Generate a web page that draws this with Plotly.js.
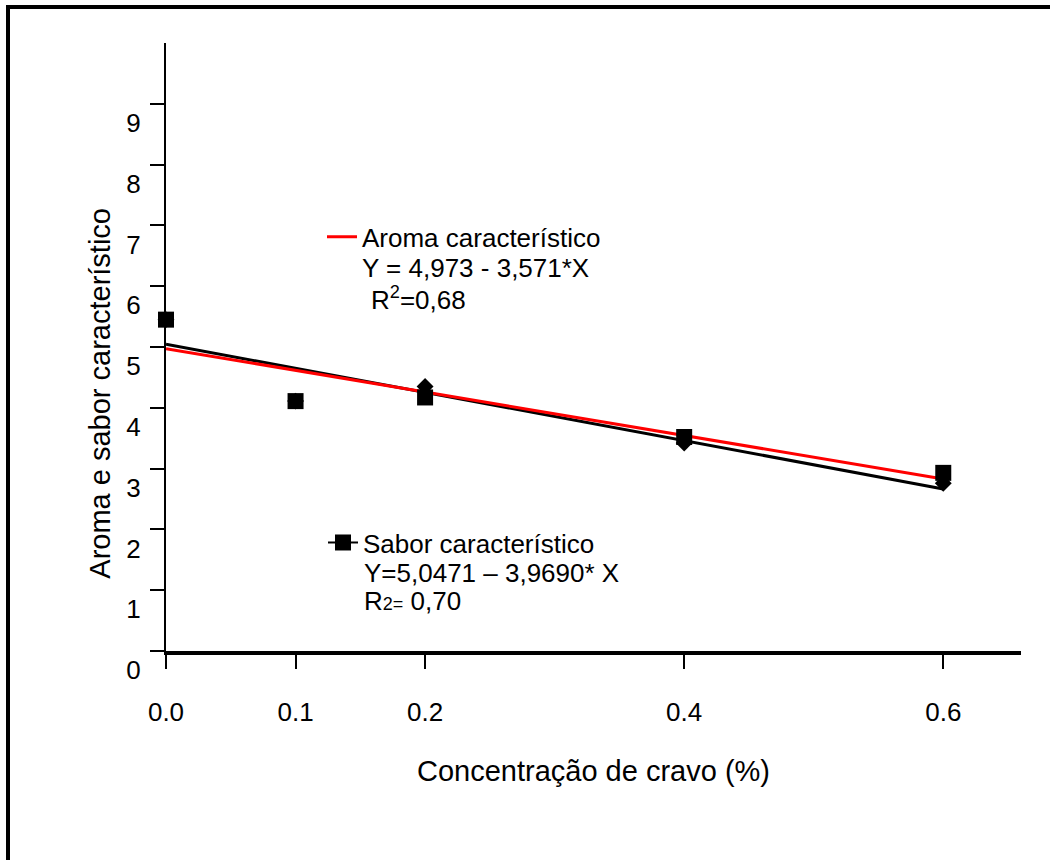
<!DOCTYPE html>
<html>
<head>
<meta charset="utf-8">
<script src="https://cdn.plot.ly/plotly-3.0.1.min.js"></script>
<style>
  html, body { margin: 0; padding: 0; background: #fff; }
  #wrap { position: relative; width: 1050px; height: 860px; }
  #chart { position: absolute; left: 0; top: 0; width: 1050px; height: 860px; }
  #frame { position: absolute; left: 6px; top: 5px; width: 1044px; height: 855px;
           border-left: 4px solid #000; border-top: 4px solid #000; box-sizing: border-box;
           pointer-events: none; z-index: 10; }
</style>
</head>
<body>
<div id="wrap">
  <div id="chart"></div>
  <div id="frame"></div>
</div>
<script>
// Concentration of clove (%)
const concentracao = [0, 0.1, 0.2, 0.4, 0.6];
// Sabor característico (squares)
const sabor = [5.45, 4.11, 4.17, 3.52, 2.93];
// Aroma característico (diamonds)
const aroma = [5.45, 4.11, 4.35, 3.42, 2.76];
// Fitted lines (end points)
const ajusteX = [0, 0.6];
const aromaAjuste = [4.973, 2.830];
const saborAjuste = [5.047, 2.666];
// Tick values / labels
const xTicks = [0, 0.1, 0.2, 0.4, 0.6];
const xTickText = ['0.0', '0.1', '0.2', '0.4', '0.6'];
const yTicks = [0, 1, 2, 3, 4, 5, 6, 7, 8, 9];
const yTickText = ['0', '1', '2', '3', '4', '5', '6', '7', '8', '9'];

const FONT = 'Liberation Sans, Arial, sans-serif';

const traces = [
  { x: ajusteX, y: saborAjuste, mode: 'lines', line: { color: '#000', width: 3 }, showlegend: false, hoverinfo: 'skip' },
  { x: ajusteX, y: aromaAjuste, mode: 'lines', line: { color: '#ff0000', width: 3 },
    name: 'Aroma característico', showlegend: true, legend: 'legend' },
  { x: concentracao, y: aroma, mode: 'markers', cliponaxis: false,
    marker: { symbol: 'diamond', size: 13, color: '#000' }, showlegend: false },
  { x: concentracao, y: sabor, mode: 'markers', cliponaxis: false,
    marker: { symbol: 'square', size: 16, color: '#000' }, showlegend: false },
  { x: [null], y: [null], mode: 'lines+markers', line: { color: '#000', width: 2 },
    marker: { symbol: 'square', size: 16, color: '#000' },
    name: 'Sabor característico', showlegend: true, legend: 'legend2' }
];

const L = 166, R = 1050 - 1021, T = 43, B = 860 - 651.5;
const pw = 1050 - L - R, ph = 860 - T - B;
const px = v => (v - L) / pw;
const py = v => (860 - B - v) / ph;

const txt = { family: FONT, size: 26, color: '#000' };

const layout = {
  width: 1050, height: 860,
  margin: { l: L, r: R, t: T, b: B, pad: 0 },
  paper_bgcolor: '#fff', plot_bgcolor: '#fff',
  font: txt,
  xaxis: {
    range: [0, 0.66], tickvals: xTicks, ticktext: xTickText,
    showgrid: false, zeroline: false, showline: true, linecolor: '#000', linewidth: 4,
    ticks: 'outside', ticklen: 14, tickwidth: 2, tickcolor: '#000',
    ticklabelstandoff: 21,
    tickfont: txt,
    title: { text: 'Concentração de cravo (%)', font: { family: FONT, size: 29, color: '#000' }, standoff: 35 }
  },
  yaxis: {
    range: [0, 10], tickvals: yTicks, ticktext: yTickText,
    showgrid: false, zeroline: false, showline: true, linecolor: '#000', linewidth: 2,
    ticks: 'outside', ticklen: 14, tickwidth: 2, tickcolor: '#000',
    ticklabelshift: 19, ticklabelstandoff: 4,
    tickfont: txt
  },
  legend: {
    x: px(322), y: py(237), xanchor: 'left', yanchor: 'middle',
    bgcolor: 'rgba(0,0,0,0)', borderwidth: 0, font: txt
  },
  legend2: {
    x: px(323), y: py(543), xanchor: 'left', yanchor: 'middle',
    bgcolor: 'rgba(0,0,0,0)', borderwidth: 0, font: txt
  },
  annotations: [
    { xref: 'paper', yref: 'paper', x: px(360), y: py(268), xanchor: 'left', yanchor: 'middle',
      showarrow: false, text: 'Y = 4,973 - 3,571*X', font: txt },
    { xref: 'paper', yref: 'paper', x: px(369), y: py(299), xanchor: 'left', yanchor: 'middle',
      showarrow: false, text: 'R<sup>2</sup>=0,68', font: txt },
    { xref: 'paper', yref: 'paper', x: px(362), y: py(573), xanchor: 'left', yanchor: 'middle',
      showarrow: false, text: 'Y=5,0471 – 3,9690* X', font: txt },
    { xref: 'paper', yref: 'paper', x: px(362), y: py(601), xanchor: 'left', yanchor: 'middle',
      showarrow: false, text: 'R<span style="font-size:18px">2=</span> 0,70', font: txt },
    { xref: 'paper', yref: 'paper', x: px(100), y: py(394), xanchor: 'center', yanchor: 'middle',
      textangle: -90, showarrow: false, text: 'Aroma e sabor característico',
      font: { family: FONT, size: 29, color: '#000' } }
  ]
};

Plotly.newPlot('chart', traces, layout, { displayModeBar: false, staticPlot: true });
</script>
</body>
</html>
